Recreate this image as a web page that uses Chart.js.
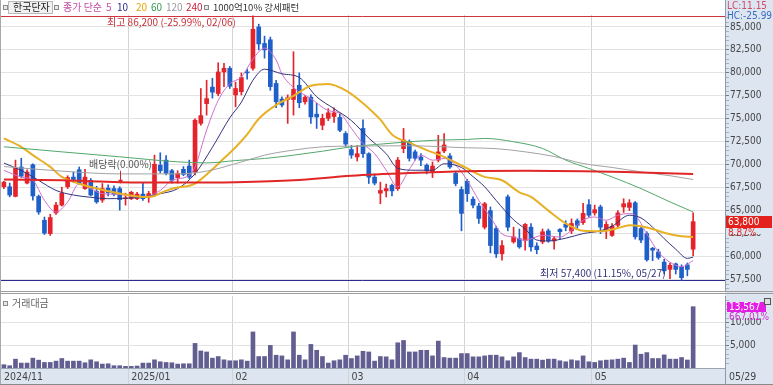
<!DOCTYPE html>
<html><head><meta charset="utf-8">
<script src="https://cdn.jsdelivr.net/npm/chart.js@4"></script>
<style>
html,body{margin:0;padding:0;background:#fff;}
#wrap{position:relative;width:773px;height:385px;overflow:hidden;font-family:'Noto Sans CJK KR','Noto Sans',sans-serif;}
canvas{position:absolute;left:0;}
#c1{top:0;} #c2{top:293px;}
.t{position:absolute;font-size:10px;line-height:12px;white-space:nowrap;top:1px;}
.ic{position:absolute;width:3px;height:3px;border:1px solid #8a8a8a;background:#e8e8e8;top:5px;}
#nm{position:absolute;left:8px;top:1px;width:43px;height:11px;border:1px solid #b9b9b9;background:#f1f1f1;}
</style></head><body>
<div id="wrap">
<canvas id="c1" width="773" height="293" style="width:773px;height:293px"></canvas>
<canvas id="c2" width="773" height="92" style="width:773px;height:92px"></canvas>
<div class="ic" style="left:3px"></div>
<div id="nm"></div>
<div class="t" style="left:13px;color:#222">한국단자</div>
<div class="ic" style="left:54px"></div>
<div class="t" style="left:63px;color:#c24ea6">종가 단순</div>
<div class="t" style="left:106px;color:#c24ea6">5</div>
<div class="t" style="left:117px;color:#2d2d8f">10</div>
<div class="t" style="left:136px;color:#e3a500">20</div>
<div class="t" style="left:151px;color:#2e9a4e">60</div>
<div class="t" style="left:166px;color:#9a9a9a">120</div>
<div class="t" style="left:186px;color:#c8203c">240</div>
<div class="ic" style="left:204px"></div>
<div class="t" style="left:213px;color:#333;font-size:9.5px">1000억10% 강세패턴</div>
<div class="ic" style="left:3px;top:301px"></div>
<div class="t" style="left:12px;top:297px;color:#666">거래대금</div>
<div style="position:absolute;left:764px;top:298px;width:5px;height:5px;border:1px solid #555;background:#ddd"></div>
</div>
<script>
// ---------- data ----------
const dates = [
'2024/11/28','2024/11/29',
'2024/12/02','2024/12/03','2024/12/04','2024/12/05','2024/12/06','2024/12/09','2024/12/10','2024/12/11','2024/12/12','2024/12/13',
'2024/12/16','2024/12/17','2024/12/18','2024/12/19','2024/12/20','2024/12/23','2024/12/24','2024/12/26','2024/12/27','2024/12/30',
'2025/01/02','2025/01/03','2025/01/06','2025/01/07','2025/01/08','2025/01/09','2025/01/10','2025/01/13','2025/01/14','2025/01/15',
'2025/01/16','2025/01/17','2025/01/20','2025/01/21','2025/01/22','2025/01/23','2025/01/24','2025/01/31',
'2025/02/03','2025/02/04','2025/02/05','2025/02/06','2025/02/07','2025/02/10','2025/02/11','2025/02/12','2025/02/13','2025/02/14',
'2025/02/17','2025/02/18','2025/02/19','2025/02/20','2025/02/21','2025/02/24','2025/02/25','2025/02/26','2025/02/27','2025/02/28',
'2025/03/04','2025/03/05','2025/03/06','2025/03/07','2025/03/10','2025/03/11','2025/03/12','2025/03/13','2025/03/14','2025/03/17',
'2025/03/18','2025/03/19','2025/03/20','2025/03/21','2025/03/24','2025/03/25','2025/03/26','2025/03/27','2025/03/28','2025/03/31',
'2025/04/01','2025/04/02','2025/04/03','2025/04/04','2025/04/07','2025/04/08','2025/04/09','2025/04/10','2025/04/11','2025/04/14',
'2025/04/15','2025/04/16','2025/04/17','2025/04/18','2025/04/21','2025/04/22','2025/04/23','2025/04/24','2025/04/25','2025/04/28',
'2025/04/29','2025/04/30',
'2025/05/02','2025/05/07','2025/05/08','2025/05/09','2025/05/12','2025/05/13','2025/05/14','2025/05/15','2025/05/16','2025/05/19',
'2025/05/20','2025/05/21','2025/05/22','2025/05/23','2025/05/26','2025/05/27','2025/05/28','2025/05/29'];

const open = [
67600,67600,66550,69750,68000,70000,66550,63950,62500,64750,
65600,67600,68650,69450,67400,68300,67100,66150,67450,67400,
67400,66300,66300,66300,66800,66450,66800,69950,70500,69350,
68600,69500,69850,69200,74500,76650,78450,77750,80100,80500,
77600,77950,80100,80500,85000,83200,83600,78850,77150,77100,
77100,78650,76850,77350,75500,74300,75050,75250,75150,73400,
71650,70850,73950,71200,68650,66900,67150,67750,67400,71750,
72500,71400,70850,69950,69200,70500,71500,70950,69050,67300,
68200,66250,65500,63200,65000,63050,60300,66500,61600,61950,
61750,63200,61150,61600,62800,61700,62950,63500,62800,63900,
63700,65650,64750,65400,62950,62300,63400,65400,65350,65850,
63050,62500,60900,60500,59400,58600,59200,58850,59100,60800];
const high = [
68200,68000,70500,70700,69450,70100,66700,64300,64600,65900,
67550,68800,69200,69750,69500,68500,67650,67950,67800,67700,
67600,66900,67100,67000,68000,67100,71050,71300,71000,69500,
69350,69800,70500,75000,78300,79200,79400,81100,81050,80700,
79000,80000,80400,86200,85300,84000,83900,79200,77400,77600,
82300,80000,77550,77600,76700,75500,76100,76200,75500,73600,
72100,72100,74900,71300,69000,68100,67900,67900,70800,73950,
72700,71600,71200,70100,70300,73200,73400,71200,69300,67600,
68400,66500,65800,65900,65400,63300,61750,66700,63200,63000,
63600,63600,61500,63000,63000,62200,63050,63900,64100,64100,
65800,66200,65600,65600,63800,63600,65000,66300,66200,66000,
63300,62700,61000,60800,59700,59300,59300,59100,59300,64750];
const low = [
67400,66500,66500,68600,67900,66150,64600,62400,62300,64600,
65500,67400,68100,67850,67300,66600,65800,65900,66600,66600,
65050,65600,66200,66200,66100,65900,66600,69100,68900,68000,
68000,68800,68500,68900,74300,75400,77250,77500,78500,78300,
76300,77600,79300,80300,82500,81600,78100,76200,76300,74500,
75400,76200,76600,74500,73950,73800,74800,74600,73600,72000,
70700,70400,70800,67950,67800,65750,66500,66600,67200,71300,
70400,70500,69900,69000,68600,70300,71300,69600,67700,62800,
66000,65300,63600,63000,60400,59900,59600,62800,61450,60900,
60700,60600,60300,61400,61550,60800,61900,62800,62500,63100,
63500,64300,64500,62500,61950,62200,63200,64800,65000,61900,
61500,59500,59550,59700,58100,57600,58100,57400,57900,60100];
const close = [
68100,66700,69650,68750,69200,66600,64850,62550,64250,65600,
66900,68600,68400,67950,68650,66700,65950,67400,66950,66800,
66200,66400,67000,66800,66300,66850,70050,69350,69050,68300,
69050,68950,68650,74850,75350,77200,77900,80100,80500,78550,
78300,79500,80000,84750,83150,82500,78500,76850,76500,77300,
78200,76750,77350,75200,75200,75050,75650,75650,73750,72250,
71050,71200,71200,68650,68000,67200,67400,67150,70500,72700,
70700,70700,70500,69350,69850,71400,72150,69750,67950,64700,
66850,65600,64150,65750,61200,60300,61200,63200,62150,61050,
63500,61050,60750,62700,61700,61950,62700,63200,63600,63400,
64700,64500,65100,63200,63500,63300,64750,65750,65850,62150,
61800,59650,60700,59900,58450,59050,58600,57700,58600,63800];
const volume = [
730,510,1960,1090,1090,2180,1740,1230,1230,1520,
2100,1520,1520,1520,1160,1810,1380,870,940,510,
510,360,360,440,1090,1090,1810,1380,1230,1160,
870,940,940,5440,3770,3550,2180,2540,1810,1600,
1600,1810,1520,7980,2540,2540,5000,2830,2680,1810,
7980,2830,1810,5220,3920,2540,1090,1600,1810,2830,
2100,2680,3700,3550,1520,2540,2470,1810,5580,6090,
3550,3550,3920,3920,2680,5950,2320,2180,2180,3190,
3190,2470,2470,2680,2830,2830,2470,1600,2470,3410,
2320,1960,1960,1740,1960,1960,1600,1380,1810,1600,
2680,1380,1230,1600,1740,1810,1960,2180,1230,5080,
3050,3410,2100,2100,2900,1960,1960,2320,1770,13567];

// moving averages: [candle index, value]
const ma5 = [[0,69380],[3,68660],[5,68300],[7,66120],[9,64850],[11,65930],[13,67930],[15,67380],[17,66840],[20,66770],[23,66480],[25,66590],[27,67200],[29,68290],[32,68840],[33,69750],[35,73770],[37,77000],[39,78820],[41,79550],[43,81500],[45,82700],[47,81400],[48,79900],[50,78400],[53,77200],[56,75900],[58,75590],[60,73950],[62,72310],[64,71220],[66,69400],[68,67600],[70,69500],[72,71040],[74,70490],[76,70680],[78,69950],[80,68290],[82,66120],[84,64290],[86,62470],[88,62130],[90,61770],[93,62310],[96,62130],[98,62860],[100,63950],[102,64310],[104,63950],[106,64500],[108,64680],[109,64500],[111,62470],[113,60500],[115,59380],[117,58900],[119,59560]];
const ma10 = [[0,70180],[3,69380],[6,68290],[9,67200],[12,66700],[15,66450],[18,66300],[21,66350],[24,66480],[27,66840],[30,67390],[33,69020],[36,71900],[39,75100],[41,76800],[43,79200],[45,80400],[48,79900],[51,79500],[54,77400],[57,76100],[60,74800],[63,72900],[66,71200],[68,69600],[71,69400],[74,69400],[76,70100],[79,69700],[81,68700],[83,67600],[85,66100],[88,64000],[90,63000],[92,61800],[94,61700],[97,62000],[100,62500],[103,62800],[105,63300],[108,64500],[110,64200],[112,63200],[114,61950],[116,60800],[118,59800],[119,59950]];
const ma20 = [[0,72860],[3,71950],[5,71040],[8,69760],[10,68670],[12,68130],[16,67400],[20,66860],[24,66490],[26,66600],[27,66910],[29,67380],[33,67950],[36,69500],[38,70700],[40,71900],[42,73300],[44,75000],[47,76500],[50,77500],[53,78600],[56,78800],[59,78100],[62,76700],[65,74900],[67,73300],[70,72400],[73,71590],[76,70860],[80,69590],[83,68670],[86,68310],[89,67000],[91,66500],[94,65000],[97,63600],[100,62800],[103,62750],[106,63100],[108,63400],[110,63300],[112,63000],[114,62600],[117,62200],[119,62130]];
const ma60 = [[0,71950],[10,71400],[20,70860],[30,70310],[35,70200],[40,70450],[45,70680],[50,71040],[55,71470],[60,71950],[65,72240],[70,72500],[75,72680],[80,72750],[83,72860],[88,72500],[93,71770],[97,70500],[101,69590],[105,68670],[110,67400],[115,65950],[119,64860]];
const ma120 = [[0,69800],[10,69300],[20,69000],[30,69000],[35,69300],[41,70300],[45,71040],[50,71590],[55,71950],[60,72020],[70,72060],[80,71840],[85,71750],[90,71400],[95,70900],[100,70130],[105,69700],[110,69220],[115,68800],[119,68390]];
const ma240 = [[0,68400],[10,68300],[20,68100],[30,68050],[40,68100],[50,68300],[60,68800],[70,69100],[80,69300],[90,69350],[100,69300],[110,69150],[119,69000]];

const priceTicks = [57500,60000,62500,65000,67500,70000,72500,75000,77500,80000,82500,85000];
const volTicks = [5000,10000];
const monthIdx = [0,22,40,60,80,102];
const monthText = ['2024/11','2025/01','02','03','04','05'];
const lastDateText = '05/29';
const hiText = '최고 86,200 (-25.99%, 02/06)';
const loText = '최저 57,400 (11.15%, 05/27)';
const divText = '배당락(0.00%)';
const divIdx = 20;
const lcText = 'LC:11.15', hcText = 'HC:-25.99';
const priceText = '63,800', priceChgText = '8.87%';
const volText = '13,567', volChgText = '667.01%';

// ---------- styling ----------
const NARROW = "'Liberation Sans Narrow','DejaVu Sans Condensed','Liberation Sans',sans-serif";
const CJK = "'Noto Sans CJK KR','Noto Sans',sans-serif";
const UP = '#e4232a', DOWN = '#1f5fc9', PANEL = '#dce5f0', AXIS = '#8e9aab';
const GRID = '#e3e3e3', VGRID = '#d3d3d3', TRANSP = 'rgba(0,0,0,0)';
const NPAD = 5;
const labels = dates.concat(Array.from({length: NPAD}, () => ''));
const candleColors = close.map((c, i) => c >= open[i] ? UP : DOWN);
const vGrid = ctx => (monthIdx.indexOf(ctx.index) > 0 ? VGRID : TRANSP);
const toPts = arr => arr.map(p => ({x: dates[p[0]], y: p[1]}));
const fmt = v => v.toLocaleString('en-US');

function maLine(arr, color, width, order) {
  return {type: 'line', data: toPts(arr), borderColor: color, borderWidth: width, pointRadius: 0,
    cubicInterpolationMode: 'monotone', fill: false, order: order};
}
function minorTicks(min, max, step) { const t = []; for (let v = min; v <= max; v += step) t.push({value: v}); return t; }
function noPadY(s) { s.width = 48; s.paddingTop = 0; s.paddingBottom = 0; }

const pricePlugin = {
  id: 'pricePlugin',
  beforeDraw(ch) {
    const c = ch.ctx, a = ch.chartArea;
    c.save();
    c.fillStyle = '#fff'; c.fillRect(0, 0, ch.width, ch.height);
    c.fillStyle = PANEL; c.fillRect(a.right, 0, ch.width - a.right, ch.height);
    c.restore();
  },
  beforeDatasetsDraw(ch) {
    const c = ch.ctx, a = ch.chartArea, y = ch.scales.y;
    const hiV = Math.max(...high), loV = Math.min(...low);
    c.save();
    c.lineWidth = 1;
    let yy = Math.round(y.getPixelForValue(hiV)) + 0.5;
    c.strokeStyle = '#d0343c'; c.beginPath(); c.moveTo(0, yy); c.lineTo(a.right, yy); c.stroke();
    yy = Math.round(y.getPixelForValue(loV)) + 0.5;
    c.strokeStyle = '#2b2b8c'; c.beginPath(); c.moveTo(0, yy); c.lineTo(a.right, yy); c.stroke();
    c.restore();
  },
  afterDraw(ch) {
    const c = ch.ctx, a = ch.chartArea, x = ch.scales.x, y = ch.scales.y;
    const hiI = high.indexOf(Math.max(...high)), loI = low.indexOf(Math.min(...low));
    c.save();
    c.fillStyle = '#a9a9a9'; c.fillRect(0, 0, 1, ch.height);
    c.fillStyle = '#9c9c9c'; c.fillRect(0, ch.height - 2, ch.width, 1);
    c.strokeStyle = AXIS; c.beginPath(); c.moveTo(a.right + 0.5, 0); c.lineTo(a.right + 0.5, a.top); c.stroke();
    c.textBaseline = 'middle';
    c.font = '10px ' + CJK;
    c.fillStyle = '#c8323a'; c.textAlign = 'right';
    c.fillText(hiText, x.getPixelForValue(hiI) - 17, y.getPixelForValue(high[hiI]) + 6);
    c.fillStyle = '#33337a';
    c.fillText(loText, x.getPixelForValue(loI) - 16, y.getPixelForValue(low[loI]) - 7);
    const dx = Math.round(x.getPixelForValue(divIdx)) + 0.5, dTop = y.getPixelForValue(high[divIdx]) - 16;
    c.strokeStyle = '#d8262c'; c.beginPath(); c.moveTo(dx, dTop); c.lineTo(dx, dTop + 10); c.stroke();
    c.fillStyle = '#d8262c'; c.beginPath(); c.moveTo(dx - 2.5, dTop + 9); c.lineTo(dx + 2.5, dTop + 9); c.lineTo(dx, dTop + 13); c.closePath(); c.fill();
    c.fillStyle = '#555'; c.textAlign = 'center';
    c.fillText(divText, dx, dTop - 7);
    c.textAlign = 'left'; c.font = '10px ' + NARROW;
    c.fillStyle = '#d24a6a'; c.fillText(lcText, a.right + 2, 6);
    c.fillStyle = '#3a6cc4'; c.fillText(hcText, a.right + 2, 16);
    const yc = Math.round(y.getPixelForValue(close[close.length - 1]));
    c.fillStyle = PANEL; c.fillRect(a.right + 1, yc + 6, 46, 6);
    c.fillStyle = '#e3201c'; c.fillRect(a.right + 1, yc - 6, 46, 12);
    c.fillStyle = '#fff'; c.fillText(priceText, a.right + 3, yc);
    c.fillStyle = '#e02a2a'; c.fillText(priceChgText, a.right + 3, yc + 11);
    c.restore();
  }
};

const volPlugin = {
  id: 'volPlugin',
  beforeDraw(ch) {
    const c = ch.ctx, a = ch.chartArea;
    c.save();
    c.fillStyle = '#fff'; c.fillRect(0, 0, ch.width, ch.height);
    c.fillStyle = PANEL; c.fillRect(a.right, 0, ch.width - a.right, ch.height);
    c.fillRect(0, a.bottom, ch.width, ch.height - a.bottom);
    c.restore();
  },
  afterDraw(ch) {
    const c = ch.ctx, a = ch.chartArea, x = ch.scales.x, y = ch.scales.y;
    c.save();
    c.fillStyle = '#a9a9a9'; c.fillRect(0, 0, 1, ch.height);
    c.fillStyle = '#9c9c9c'; c.fillRect(0, 0, ch.width, 1);
    c.fillStyle = '#8a8a8a'; c.fillRect(0, ch.height - 1, ch.width, 1);
    c.strokeStyle = AXIS; c.beginPath(); c.moveTo(a.right + 0.5, a.bottom); c.lineTo(a.right + 0.5, ch.height); c.stroke();
    c.textBaseline = 'middle'; c.textAlign = 'left'; c.font = '10.5px ' + NARROW;
    c.fillStyle = '#444'; c.fillText(lastDateText, a.right + 4, a.bottom + 9);
    const yv = Math.round(y.getPixelForValue(volume[volume.length - 1]));
    c.font = '10px ' + NARROW;
    c.fillStyle = PANEL; c.fillRect(a.right + 2, yv + 5, 44, 6);
    c.fillStyle = '#e41ee4'; c.fillRect(a.right + 2, yv - 5, 39, 10);
    c.fillStyle = '#fff'; c.fillText(volText, a.right + 4, yv);
    c.fillStyle = '#d22ed2'; c.fillText(volChgText, a.right + 4, yv + 10);
    c.restore();
  }
};

Chart.defaults.font.family = NARROW;

new Chart(document.getElementById('c1'), {
  type: 'bar',
  data: {labels, datasets: [
    maLine(ma240, '#e02626', 2, 1),
    maLine(ma120, '#a3a3a3', 1, 2),
    maLine(ma60, '#52a86a', 1, 3),
    maLine(ma20, '#e8b025', 2, 4),
    maLine(ma10, '#34347e', 1, 5),
    maLine(ma5, '#cf6fcf', 1, 6),
    {type: 'bar', data: open.map((o, i) => [o, close[i]]), backgroundColor: candleColors, barThickness: 4,
      grouped: false, borderWidth: 0, minBarLength: 1, order: 10},
    {type: 'bar', data: low.map((l, i) => [l, high[i]]), backgroundColor: candleColors, barThickness: 1,
      grouped: false, borderWidth: 0, minBarLength: 1, order: 20}
  ]},
  options: {
    responsive: false, animation: false, devicePixelRatio: 1,
    layout: {padding: {left: 1, top: 15, right: 0, bottom: 2}},
    plugins: {legend: {display: false}, tooltip: {enabled: false}},
    scales: {
      x: {offset: true, grid: {offset: true, color: vGrid, drawTicks: false}, ticks: {display: false},
        border: {display: false}, afterFit(s) { s.height = 0; s.paddingLeft = 0; s.paddingRight = 0; }},
      y: {position: 'right', min: 56250, max: 86300,
        afterFit: noPadY,
        afterBuildTicks(s) { s.ticks = minorTicks(56500, 86000, 500); },
        grid: {color: c => (c.tick && priceTicks.includes(c.tick.value)) ? GRID : TRANSP,
               tickColor: c => (c.tick && priceTicks.includes(c.tick.value)) ? '#6f7a88' : '#a7b1bf', tickLength: 4},
        border: {display: true, color: AXIS},
        ticks: {autoSkip: false, crossAlign: 'near', padding: 1, color: '#454545', font: {family: NARROW, size: 10},
          callback: v => priceTicks.includes(v) ? fmt(v) : ''}}
    }
  },
  plugins: [pricePlugin]
});

new Chart(document.getElementById('c2'), {
  type: 'bar',
  data: {labels, datasets: [
    {data: volume, backgroundColor: '#625e92', barThickness: 4, borderWidth: 0}
  ]},
  options: {
    responsive: false, animation: false, devicePixelRatio: 1,
    layout: {padding: {left: 1, top: 3, right: 0, bottom: 0}},
    plugins: {legend: {display: false}, tooltip: {enabled: false}},
    scales: {
      x: {offset: true, grid: {offset: true, color: vGrid, tickColor: vGrid, drawTicks: true, tickLength: 17},
        border: {display: true, color: '#9aa5b4'},
        ticks: {autoSkip: false, maxRotation: 0, minRotation: 0, align: 'start', padding: -14, color: '#444',
          font: {family: NARROW, size: 10.5},
          callback: (v, i) => { const k = monthIdx.indexOf(i); return k >= 0 ? monthText[k] : ''; }},
        afterFit(s) { s.height = 17; s.paddingLeft = 0; s.paddingRight = 0; }},
      y: {position: 'right', min: 0, max: 15930,
        afterFit: noPadY,
        afterBuildTicks(s) { s.ticks = minorTicks(1000, 15000, 1000); },
        grid: {color: c => (c.tick && volTicks.includes(c.tick.value)) ? GRID : TRANSP,
               tickColor: c => (c.tick && volTicks.includes(c.tick.value)) ? '#6f7a88' : '#a7b1bf', tickLength: 4},
        border: {display: true, color: AXIS},
        ticks: {autoSkip: false, crossAlign: 'near', padding: 1, color: '#454545', font: {family: NARROW, size: 10},
          callback: v => volTicks.includes(v) ? fmt(v) : ''}}
    }
  },
  plugins: [volPlugin]
});
</script>
</body></html>
